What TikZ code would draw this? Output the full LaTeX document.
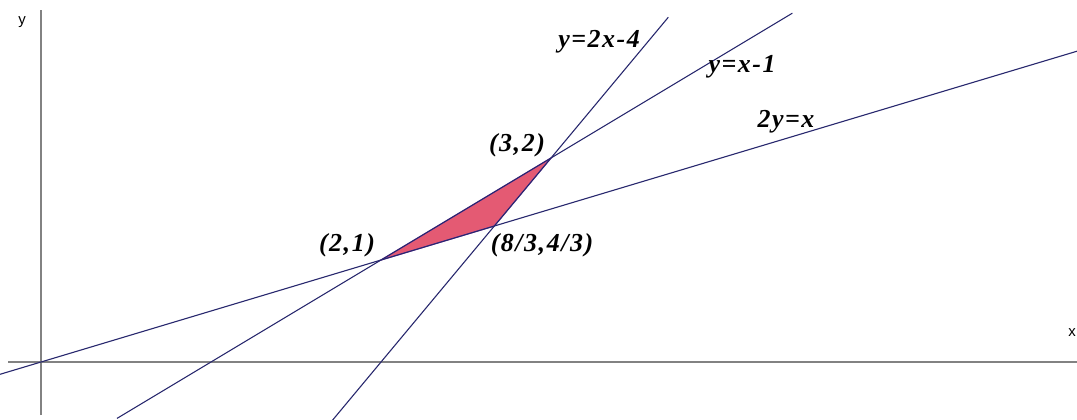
\documentclass[tikz,border=0pt]{standalone}
\usepackage{fontspec}
\setmainfont{Liberation Serif}
\newfontfamily\labelfont[LetterSpace=6]{Liberation Serif}
\newfontfamily\axisfont{Liberation Sans}
\definecolor{graphcol}{RGB}{40,40,110}
\definecolor{axiscol}{RGB}{130,130,130}
\definecolor{regionfill}{RGB}{228,90,115}
\definecolor{regionedge}{RGB}{140,60,170}
\begin{document}
\begin{tikzpicture}[x=1bp,y=1bp,
  axisline/.style={draw=axiscol, line width=1.3bp},
  graphline/.style={draw=graphcol, line width=1.1bp},
  lbl/.style={font=\labelfont\fontsize{26}{26}\selectfont\bfseries\itshape, inner sep=0pt},
  axlbl/.style={font=\axisfont\fontsize{15}{15}\selectfont, inner sep=0pt}]
\useasboundingbox (0,0) rectangle (1077,419);
\fill[white] (0,0) rectangle (1077,419);
\begin{scope}[shift={(41,57)}, x=170bp, y=102bp]
  % axes
  \coordinate (X1) at (-0.194,0);
  \coordinate (X2) at (6.094,0);
  \coordinate (Y1) at (0,-0.52);
  \coordinate (Y2) at (0,3.45);
  \draw[axisline] (X1) -- (X2);
  \draw[axisline] (Y1) -- (Y2);
  % intersection points
  \coordinate (P21) at (2,1);
  \coordinate (P32) at (3,2);
  \coordinate (P83) at (8/3,4/3);
  % shaded region
  \filldraw[fill=regionfill, draw=regionedge, line width=1.2bp] (P21) -- (P32) -- (P83) -- cycle;
  % lines
  \coordinate (A1) at (-0.241,-0.1205);
  \coordinate (A2) at (6.094,3.047);
  \coordinate (B1) at (0.447,-0.553);
  \coordinate (B2) at (4.42,3.42);
  \coordinate (C1) at (1.71,-0.58);
  \coordinate (C2) at (3.69,3.38);
  \draw[graphline] (A1) -- (A2);
  \draw[graphline] (B1) -- (B2);
  \draw[graphline] (C1) -- (C2);
\end{scope}
% labels
\node[lbl] (l1) at (599,377) {y=2x-4};
\node[lbl] (l2) at (742,352) {y=x-1};
\node[lbl] (l3) at (786,297) {2y=x};
\node[lbl] (l4) at (517,274) {(3,2)};
\node[lbl] (l5) at (347,174) {(2,1)};
\node[lbl] (l6) at (542,174) {(8/3,4/3)};
\node[axlbl] (ly) at (22,397) {y};
\node[axlbl] (lx) at (1072,86) {x};
\end{tikzpicture}
\end{document}
